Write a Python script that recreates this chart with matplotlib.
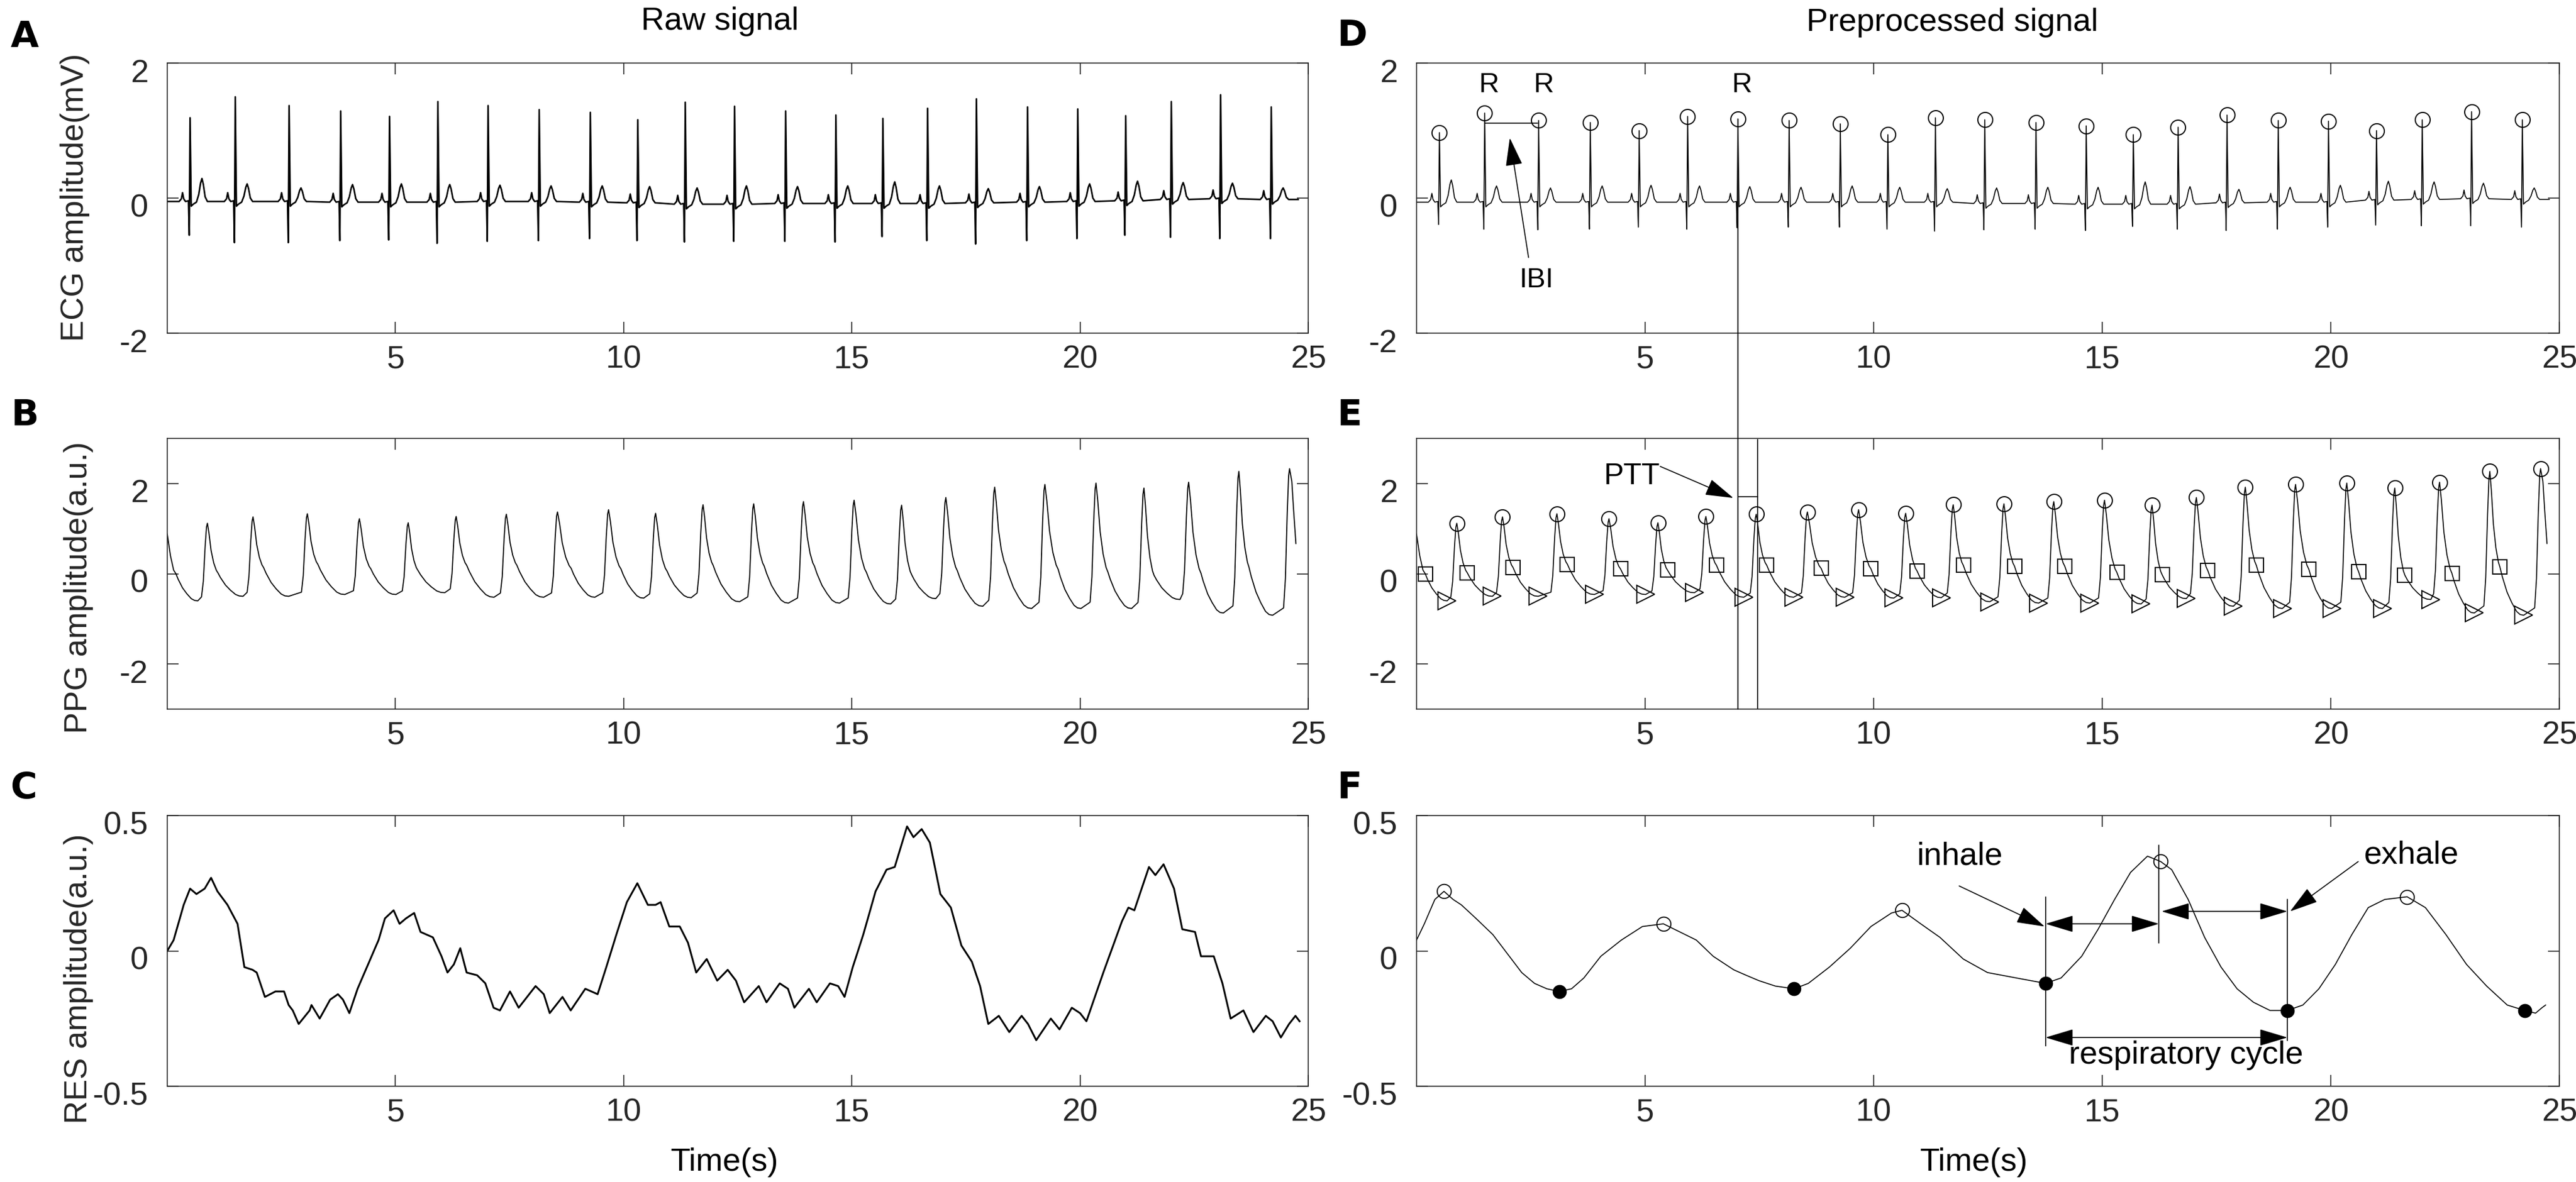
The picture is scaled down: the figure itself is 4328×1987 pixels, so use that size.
import matplotlib.pyplot as plt
from matplotlib.patches import ConnectionPatch
from matplotlib.transforms import ScaledTranslation

plt.rcParams['font.family'] = ['Liberation Sans', 'DejaVu Sans']
plt.rcParams['axes.unicode_minus'] = False

W, H = 4328, 1987

# ---------------- data ----------------
# ECG: R-peak times (s), shared by raw and preprocessed traces
R_TIMES = [0.50, 1.49, 2.67, 3.80, 4.87, 5.93, 7.03, 8.15, 9.27, 10.31, 11.35, 12.43,
           13.55, 14.65, 15.68, 16.66, 17.73, 18.85, 19.95, 21.00, 22.00, 23.08, 24.19]
ECG_RAW_R = [1.19, 1.50, 1.37, 1.29, 1.21, 1.43, 1.37, 1.31, 1.27, 1.16, 1.42, 1.36,
             1.29, 1.23, 1.18, 1.33, 1.47, 1.35, 1.32, 1.22, 1.43, 1.53, 1.35]
ECG_RAW_Q = [-0.55, -0.66, -0.66, -0.63, -0.62, -0.67, -0.64, -0.63, -0.60, -0.63, -0.65, -0.64,
             -0.64, -0.65, -0.57, -0.63, -0.68, -0.63, -0.60, -0.55, -0.58, -0.60, -0.60]
ECG_RAW_T = [0.29, 0.21, 0.15, 0.20, 0.21, 0.20, 0.19, 0.18, 0.18, 0.17, 0.15, 0.18,
             0.17, 0.18, 0.24, 0.18, 0.14, 0.17, 0.21, 0.25, 0.23, 0.22, 0.15]
ECG_RAW_BASE = [-0.05, -0.05, -0.05, -0.06, -0.06, -0.06, -0.05, -0.05, -0.06, -0.07, -0.09, -0.09,
                -0.08, -0.08, -0.08, -0.08, -0.07, -0.06, -0.05, -0.04, -0.02, -0.01, -0.02]

ECG_PRE_R = [0.97, 1.26, 1.15, 1.12, 1.00, 1.21, 1.17, 1.15, 1.10, 0.94, 1.19, 1.16,
             1.12, 1.07, 0.94, 1.05, 1.23, 1.15, 1.14, 1.00, 1.16, 1.28, 1.16]
ECG_PRE_Q = [-0.39, -0.46, -0.47, -0.46, -0.43, -0.46, -0.44, -0.43, -0.43, -0.46, -0.49, -0.47,
             -0.46, -0.48, -0.42, -0.46, -0.48, -0.46, -0.43, -0.40, -0.41, -0.41, -0.43]
ECG_PRE_T = [0.27, 0.18, 0.15, 0.18, 0.19, 0.18, 0.17, 0.16, 0.18, 0.16, 0.14, 0.15,
             0.16, 0.16, 0.24, 0.17, 0.13, 0.16, 0.19, 0.25, 0.24, 0.22, 0.15]
ECG_PRE_BASE = [-0.06, -0.06, -0.06, -0.06, -0.06, -0.06, -0.06, -0.06, -0.06, -0.06, -0.06, -0.08,
                -0.08, -0.09, -0.09, -0.09, -0.07, -0.06, -0.06, -0.03, -0.02, -0.01, -0.02]

# PPG: systolic peaks (circles), feet (triangles), dicrotic notches (squares)
PPG_PEAK_T = [0.88, 1.88, 3.07, 4.21, 5.28, 6.33, 7.43, 8.55, 9.67, 10.70, 11.74, 12.85,
              13.94, 15.05, 16.09, 17.06, 18.13, 19.23, 20.35, 21.40, 22.38, 23.48, 24.59]
PPG_PEAK_V = [1.12, 1.26, 1.33, 1.22, 1.13, 1.27, 1.32, 1.37, 1.42, 1.34, 1.53, 1.55,
              1.60, 1.63, 1.52, 1.69, 1.92, 1.98, 2.01, 1.90, 2.03, 2.27, 2.33]
PPG_FOOT_T = [0.67, 1.66, 2.66, 3.89, 5.01, 6.08, 7.16, 8.25, 9.37, 10.44, 11.48, 12.54,
              13.61, 14.73, 15.85, 16.84, 17.87, 18.94, 20.02, 21.13, 22.19, 23.14, 24.22]
PPG_FOOT_V = [-0.60, -0.50, -0.50, -0.46, -0.46, -0.42, -0.52, -0.52, -0.52, -0.54, -0.53, -0.62,
              -0.65, -0.65, -0.67, -0.55, -0.72, -0.77, -0.77, -0.77, -0.57, -0.87, -0.92]
PPG_NOTCH_T = [0.19, 1.11, 2.11, 3.30, 4.46, 5.49, 6.56, 7.66, 8.85, 9.94, 10.95, 11.96,
               13.08, 14.18, 15.32, 16.31, 17.31, 18.37, 19.52, 20.61, 21.62, 22.65, 23.70]
PPG_NOTCH_V = [0.00, 0.02, 0.14, 0.21, 0.11, 0.08, 0.19, 0.19, 0.12, 0.11, 0.06, 0.19,
               0.17, 0.17, 0.03, -0.02, 0.07, 0.19, 0.10, 0.04, -0.03, 0.01, 0.15]
PPG_START_T = [0.0, 0.07, 0.14]
PPG_START_V = [0.88, 0.40, 0.08]
PPG_END_T = [24.64, 24.68, 24.73]
PPG_END_V = [2.05, 1.40, 0.67]

# Respiration, raw trace
RES_RAW_T = [0.00, 0.14, 0.36, 0.50, 0.64, 0.82, 0.96, 1.10, 1.32, 1.54, 1.69, 1.87, 1.96, 2.14,
             2.37, 2.56, 2.66, 2.75, 2.88, 3.12, 3.16, 3.34, 3.57, 3.74, 3.85, 3.99, 4.17, 4.40,
             4.63, 4.77, 4.96, 5.09, 5.23, 5.41, 5.55, 5.82, 6.01, 6.14, 6.28, 6.42, 6.56, 6.79,
             6.97, 7.15, 7.29, 7.51, 7.70, 8.07, 8.25, 8.38, 8.66, 8.84, 9.16, 9.43, 9.62, 9.84,
             10.07, 10.30, 10.53, 10.70, 10.81, 11.00, 11.23, 11.41, 11.59, 11.82, 12.05, 12.28,
             12.46, 12.64, 12.96, 13.13, 13.42, 13.60, 13.74, 14.06, 14.23, 14.52, 14.70, 14.84,
             15.02, 15.25, 15.52, 15.76, 15.94, 16.21, 16.35, 16.53, 16.71, 16.94, 17.17, 17.40,
             17.63, 17.81, 17.99, 18.22, 18.45, 18.72, 18.86, 19.04, 19.36, 19.55, 19.82, 20.00,
             20.14, 20.51, 20.92, 21.06, 21.19, 21.51, 21.65, 21.83, 22.06, 22.24, 22.52, 22.65,
             22.93, 23.12, 23.30, 23.58, 23.80, 24.07, 24.22, 24.40, 24.58, 24.72, 24.81]
RES_RAW_V = [0.00, 0.04, 0.17, 0.23, 0.21, 0.23, 0.27, 0.22, 0.17, 0.10, -0.06, -0.07, -0.08, -0.17,
             -0.15, -0.15, -0.20, -0.22, -0.27, -0.22, -0.20, -0.25, -0.18, -0.16, -0.18, -0.23, -0.14, -0.05,
             0.04, 0.12, 0.15, 0.10, 0.12, 0.14, 0.07, 0.05, -0.02, -0.08, -0.05, 0.01, -0.08, -0.09,
             -0.12, -0.21, -0.22, -0.15, -0.21, -0.13, -0.16, -0.23, -0.17, -0.22, -0.14, -0.16, -0.06, 0.06,
             0.18, 0.25, 0.17, 0.17, 0.18, 0.09, 0.09, 0.03, -0.08, -0.03, -0.11, -0.07,
             -0.11, -0.19, -0.13, -0.19, -0.12, -0.14, -0.21, -0.14, -0.19, -0.12, -0.13, -0.17,
             -0.06, 0.06, 0.22, 0.30, 0.31, 0.46, 0.42, 0.45, 0.40, 0.21, 0.16, 0.02,
             -0.04, -0.13, -0.27, -0.24, -0.30, -0.24, -0.27, -0.33, -0.25, -0.29, -0.21, -0.23,
             -0.26, -0.08, 0.11, 0.16, 0.15, 0.31, 0.28, 0.32, 0.23, 0.08, 0.07, -0.02,
             -0.02, -0.12, -0.25, -0.22, -0.30, -0.24, -0.26, -0.32, -0.27, -0.24, -0.26]

# Respiration, preprocessed trace
RES_PRE_T = [0.00, 0.17, 0.40, 0.60, 0.80, 0.98, 1.30, 1.67, 2.03, 2.30, 2.58, 2.85, 3.12, 3.39,
             3.66, 4.03, 4.48, 4.94, 5.40, 5.76, 6.12, 6.49, 6.94, 7.21, 7.49, 7.85, 8.26, 8.57,
             9.03, 9.49, 9.94, 10.39, 10.62, 11.03, 11.45, 11.96, 12.49, 13.12, 13.76, 14.10,
             14.55, 14.91, 15.27, 15.62, 15.99, 16.28, 16.52, 16.88, 17.24, 17.60, 17.95, 18.31,
             18.67, 19.05, 19.39, 19.74, 20.10, 20.46, 20.82, 21.18, 21.67, 22.07, 22.52, 22.97,
             23.41, 23.86, 24.24, 24.48, 24.62, 24.70]
RES_PRE_V = [0.04, 0.10, 0.19, 0.22, 0.19, 0.17, 0.12, 0.06, -0.02, -0.08, -0.12, -0.14, -0.15, -0.14,
             -0.10, -0.02, 0.04, 0.09, 0.10, 0.07, 0.04, -0.02, -0.07, -0.09, -0.11, -0.13, -0.14, -0.12,
             -0.06, 0.01, 0.09, 0.14, 0.15, 0.10, 0.05, -0.03, -0.08, -0.10, -0.12, -0.10,
             -0.02, 0.08, 0.19, 0.29, 0.35, 0.33, 0.30, 0.19, 0.05, -0.06, -0.14, -0.19,
             -0.22, -0.22, -0.20, -0.14, -0.05, 0.06, 0.16, 0.19, 0.20, 0.16, 0.06, -0.05,
             -0.13, -0.20, -0.22, -0.23, -0.21, -0.20]
RES_PEAK_T = [0.60, 5.40, 10.62, 16.28, 21.67]
RES_PEAK_V = [0.22, 0.10, 0.15, 0.33, 0.20]
RES_TROUGH_T = [3.12, 8.26, 13.76, 19.05, 24.24]
RES_TROUGH_V = [-0.15, -0.14, -0.12, -0.22, -0.22]

T_END = 24.78
TEXT = '#262626'


def ecg_trace(r_t, r_v, q_v, t_v, base):
    xs, ys = [0.0], [base[0]]
    for tr, r, q, tt, b in zip(r_t, r_v, q_v, t_v, base):
        h = tt - b
        knots = [(-0.24, b), (-0.19, b + 0.04), (-0.165, b + 0.13), (-0.14, b + 0.04),
                 (-0.10, b), (-0.035, b + 0.01), (-0.018, q), (0.0, r), (0.025, b - 0.07),
                 (0.07, b - 0.04), (0.14, b - 0.01), (0.19, b + 0.3 * h), (0.23, b + 0.8 * h),
                 (0.26, tt), (0.29, b + 0.75 * h), (0.33, b + 0.2 * h), (0.38, b)]
        for dt, v in knots:
            if 0 < tr + dt < T_END:
                xs.append(tr + dt)
                ys.append(v)
    xs.append(T_END)
    ys.append(base[-1])
    return xs, ys


def ppg_trace():
    xs, ys = list(PPG_START_T), list(PPG_START_V)
    n = len(PPG_PEAK_T)
    for i in range(n):
        tn, vn = PPG_NOTCH_T[i], PPG_NOTCH_V[i]
        tf, vf = PPG_FOOT_T[i], PPG_FOOT_V[i]
        tp, vp = PPG_PEAK_T[i], PPG_PEAK_V[i]
        # notch -> foot
        xs.append(tn); ys.append(vn)
        for ft, fv in [(0.1, 0.2), (0.3, 0.52), (0.5, 0.74), (0.7, 0.92), (0.85, 0.985)]:
            xs.append(tn + ft * (tf - tn)); ys.append(vn - fv * (vn - vf))
        xs.append(tf); ys.append(vf)
        # foot -> systolic peak
        for dt, fv in [(-0.13, 0.05), (-0.09, 0.25), (-0.05, 0.7), (-0.02, 0.95)]:
            xs.append(tp + dt); ys.append(vf + fv * (vp - vf))
        xs.append(tp); ys.append(vp)
        # peak -> next notch
        if i + 1 < n:
            tn2, vn2 = PPG_NOTCH_T[i + 1], PPG_NOTCH_V[i + 1]
            for ft, fv in [(0.15, 0.2), (0.35, 0.55), (0.6, 0.8), (0.85, 0.95)]:
                xs.append(tp + ft * (tn2 - tp)); ys.append(vp - fv * (vp - vn2))
    xs += PPG_END_T
    ys += PPG_END_V
    return xs, ys


def frac_x(px):
    return px / W


def frac_y(py):
    return 1 - py / H


fig = plt.figure(figsize=(W / 100, H / 100), dpi=100)

left_x, left_w = 281, 1917
right_x, right_w = 2380, 1920
rows = [(106, 560), (737, 1192), (1371, 1826)]


def make_ax(x0, w, row):
    top, bot = rows[row]
    ax = fig.add_axes([frac_x(x0), frac_y(bot), w / W, (bot - top) / H])
    ax.set_xlim(0, 25)
    ax.set_xticks([5, 10, 15, 20, 25])
    for s in ax.spines.values():
        s.set_color(TEXT)
        s.set_linewidth(1.2)
    ax.tick_params(direction='in', length=14, width=1.2, top=True, right=True,
                   labelsize=39, colors=TEXT)
    ax.tick_params(axis='x', pad=14)
    ax.tick_params(axis='y', pad=23)
    return ax


def shift_ylabels(ax):
    off = ScaledTranslation(0, -12 / 100, fig.dpi_scale_trans)
    for lab in ax.get_yticklabels():
        lab.set_transform(lab.get_transform() + off)


axA = make_ax(left_x, left_w, 0)
axB = make_ax(left_x, left_w, 1)
axC = make_ax(left_x, left_w, 2)
axD = make_ax(right_x, right_w, 0)
axE = make_ax(right_x, right_w, 1)
axF = make_ax(right_x, right_w, 2)

for ax in (axA, axD):
    ax.set_ylim(-2, 2)
    ax.set_yticks([-2, 0, 2])
for ax in (axB, axE):
    ax.set_ylim(-3, 3)
    ax.set_yticks([-2, 0, 2])
for ax in (axC, axF):
    ax.set_ylim(-0.5, 0.5)
    ax.set_yticks([-0.5, 0, 0.5])
    ax.set_yticklabels(['-0.5', '0', '0.5'])

# ---- raw signals ----
ex, ey = ecg_trace(R_TIMES, ECG_RAW_R, ECG_RAW_Q, ECG_RAW_T, ECG_RAW_BASE)
axA.plot(ex, ey, color='black', lw=1.9)

px, py = ppg_trace()
axB.plot(px, py, color='black', lw=1.3)

axC.plot(RES_RAW_T, RES_RAW_V, color='black', lw=2.2)

# ---- preprocessed signals ----
dx, dy = ecg_trace(R_TIMES, ECG_PRE_R, ECG_PRE_Q, ECG_PRE_T, ECG_PRE_BASE)
axD.plot(dx, dy, color='black', lw=1.2)
axD.plot(R_TIMES, ECG_PRE_R, 'o', ms=18, mfc='none', mec='black', mew=1.4)

axE.plot(px, py, color='black', lw=1.2)
axE.plot(PPG_PEAK_T, PPG_PEAK_V, 'o', ms=18, mfc='none', mec='black', mew=1.4)
axE.plot(PPG_NOTCH_T, PPG_NOTCH_V, 's', ms=17, mfc='none', mec='black', mew=1.4)
axE.plot(PPG_FOOT_T, PPG_FOOT_V, '>', ms=22, mfc='none', mec='black', mew=1.4)

axF.plot(RES_PRE_T, RES_PRE_V, color='black', lw=1.2)
axF.plot(RES_PEAK_T, RES_PEAK_V, 'o', ms=17, mfc='none', mec='black', mew=1.3)
axF.plot(RES_TROUGH_T, RES_TROUGH_V, 'o', ms=16, mfc='black', mec='black')

# ---- annotations D ----
for t in (1.58, 2.77, 7.11):
    axD.text(t, 1.565, 'R', fontsize=34, ha='center', va='baseline')
axD.plot([1.50, 2.64], [1.11, 1.11], color='black', lw=1.2)
head = dict(arrowstyle='-|>,head_length=1.5,head_width=0.45', color='black', lw=1.2,
            shrinkA=0, shrinkB=0, mutation_scale=20)
axD.annotate('', xy=(2.04, 0.89), xytext=(2.45, -0.88), arrowprops=head)
axD.text(2.63, -1.32, 'IBI', fontsize=34, ha='center', va='baseline')
con = ConnectionPatch(xyA=(7.03, 1.17), coordsA='data', axesA=axD,
                      xyB=(7.03, -3), coordsB='data', axesB=axE, color='black', lw=1.2)
fig.add_artist(con)

# ---- annotations E ----
axE.plot([7.46, 7.46], [2.97, -3], color='black', lw=1.2)
axE.plot([7.04, 7.46], [1.71, 1.71], color='black', lw=1.2)
axE.annotate('', xy=(6.93, 1.68), xytext=(5.33, 2.38), arrowprops=head)
axE.text(5.33, 1.98, 'PTT', fontsize=36, ha='right', va='baseline')

# ---- annotations F ----
axF.plot([13.76, 13.76], [0.20, -0.35], color='black', lw=1.2)
axF.plot([16.24, 16.24], [0.39, 0.03], color='black', lw=1.2)
axF.plot([19.05, 19.05], [0.19, -0.33], color='black', lw=1.2)
both = dict(arrowstyle='<|-|>,head_length=1.5,head_width=0.45', color='black', lw=1.2,
            shrinkA=0, shrinkB=0, mutation_scale=20)
axF.annotate('', xy=(16.24, 0.10), xytext=(13.76, 0.10), arrowprops=both)
axF.annotate('', xy=(19.05, 0.146), xytext=(16.30, 0.146), arrowprops=both)
axF.annotate('', xy=(19.05, -0.32), xytext=(13.76, -0.32), arrowprops=both)
axF.annotate('', xy=(13.74, 0.09), xytext=(11.87, 0.24), arrowprops=head)
axF.annotate('', xy=(19.11, 0.146), xytext=(20.6, 0.33), arrowprops=head)
axF.text(11.88, 0.318, 'inhale', fontsize=39, ha='center', va='baseline')
axF.text(21.76, 0.322, 'exhale', fontsize=39, ha='center', va='baseline')
axF.text(16.84, -0.417, 'respiratory cycle', fontsize=39, ha='center', va='baseline')

for ax in (axA, axB, axC, axD, axE, axF):
    shift_ylabels(ax)

# ---- figure-level text ----
fig.text(frac_x(1209), frac_y(50), 'Raw signal', fontsize=39, ha='center', va='baseline')
fig.text(frac_x(3280), frac_y(52), 'Preprocessed signal', fontsize=39, ha='center', va='baseline')
fig.text(frac_x(1217), frac_y(1968), 'Time(s)', fontsize=39, ha='center', va='baseline')
fig.text(frac_x(3316), frac_y(1968), 'Time(s)', fontsize=39, ha='center', va='baseline')

fig.text(frac_x(126), frac_y(332), 'ECG amplitude(mV)', fontsize=39, rotation=90,
         ha='center', va='center', color=TEXT)
fig.text(frac_x(132), frac_y(988), 'PPG amplitude(a.u.)', fontsize=39, rotation=90,
         ha='center', va='center', color=TEXT)
fig.text(frac_x(132), frac_y(1645), 'RES amplitude(a.u.)', fontsize=39, rotation=90,
         ha='center', va='center', color=TEXT)

for letter, x, y in [('A', 18, 79), ('B', 18, 715), ('C', 18, 1342),
                     ('D', 2246, 77), ('E', 2246, 715), ('F', 2246, 1342)]:
    fig.text(frac_x(x), frac_y(y), letter, fontsize=44, fontweight='bold',
             family='DejaVu Sans', ha='left', va='baseline')

fig.savefig('out.png', dpi=100)
